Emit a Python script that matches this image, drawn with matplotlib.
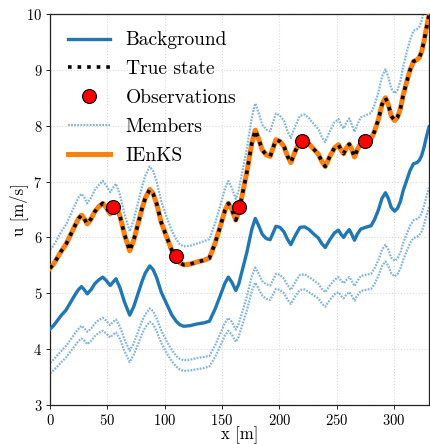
import matplotlib
matplotlib.use("Agg")
import matplotlib.pyplot as plt

plt.rcParams['font.family'] = 'serif'
plt.rcParams['font.serif'] = ['cmr10']
plt.rcParams['mathtext.fontset'] = 'cm'
plt.rcParams['axes.formatter.use_mathtext'] = True

# positions along the domain [m]
x = [0, 3, 6, 10, 14, 18, 22, 25, 27.5, 30, 32.5, 36, 39, 42.5, 46, 49, 52.5, 55, 57.5, 61,
     65, 69.5, 73, 77, 80, 83, 87, 90, 93, 97, 101.5, 106, 110, 113, 116.5, 122, 128, 134, 139, 144,
     148.5, 152.5, 155.5, 158.5, 162, 164.5, 167, 171.5, 176, 179, 182, 185, 188.5, 192, 194.5, 197, 200.5, 204, 207, 210,
     214, 218, 222, 226, 230, 234, 237, 240, 244, 248, 251.5, 254, 256, 258.5, 261, 263, 265.5, 268, 271, 275,
     280, 283, 286.5, 289.5, 292.5, 295, 297.5, 300.5, 303, 305.5, 308, 311, 314, 317, 320, 322, 324, 326, 328, 330.5]

true_u = [5.45, 5.52, 5.62, 5.76, 5.88, 6.05, 6.22, 6.34, 6.40, 6.33, 6.24, 6.34, 6.46, 6.55, 6.61, 6.54, 6.42, 6.50, 6.57, 6.38,
          6.05, 5.76, 5.95, 6.26, 6.50, 6.70, 6.86, 6.78, 6.60, 6.27, 6.02, 5.78, 5.63, 5.55, 5.51, 5.52, 5.56, 5.59, 5.63, 5.90,
          6.20, 6.48, 6.61, 6.50, 6.31, 6.45, 6.70, 7.15, 7.69, 7.92, 7.76, 7.57, 7.48, 7.45, 7.60, 7.75, 7.72, 7.63, 7.46, 7.34,
          7.55, 7.72, 7.74, 7.67, 7.58, 7.49, 7.36, 7.27, 7.45, 7.60, 7.66, 7.56, 7.50, 7.60, 7.67, 7.58, 7.44, 7.57, 7.69, 7.72,
          7.76, 7.90, 8.12, 8.38, 8.50, 8.38, 8.18, 8.09, 8.15, 8.30, 8.55, 8.78, 9.00, 9.15, 9.18, 9.22, 9.32, 9.50, 9.72, 9.98]

background_u = [4.36, 4.42, 4.50, 4.61, 4.70, 4.84, 4.98, 5.07, 5.12, 5.06, 4.99, 5.07, 5.17, 5.24, 5.29, 5.23, 5.14, 5.20, 5.26, 5.10,
                4.84, 4.61, 4.76, 5.01, 5.20, 5.36, 5.49, 5.42, 5.28, 5.02, 4.82, 4.62, 4.50, 4.44, 4.41, 4.42, 4.45, 4.47, 4.50, 4.72,
                4.96, 5.18, 5.29, 5.20, 5.05, 5.16, 5.36, 5.72, 6.15, 6.34, 6.21, 6.06, 5.98, 5.96, 6.08, 6.20, 6.18, 6.10, 5.97, 5.87,
                6.04, 6.18, 6.19, 6.14, 6.06, 5.99, 5.89, 5.82, 5.96, 6.08, 6.13, 6.05, 6.00, 6.08, 6.14, 6.06, 5.95, 6.06, 6.15, 6.18,
                6.21, 6.32, 6.50, 6.70, 6.80, 6.70, 6.54, 6.47, 6.52, 6.64, 6.84, 7.02, 7.20, 7.32, 7.34, 7.38, 7.46, 7.60, 7.78, 7.98]

member_hi = [5.78, 5.85, 5.96, 6.11, 6.23, 6.41, 6.59, 6.72, 6.78, 6.71, 6.61, 6.72, 6.85, 6.94, 7.01, 6.93, 6.81, 6.89, 6.96, 6.76,
             6.41, 6.11, 6.31, 6.64, 6.89, 7.10, 7.27, 7.19, 7.00, 6.65, 6.38, 6.13, 5.97, 5.88, 5.84, 5.85, 5.89, 5.93, 5.97, 6.25,
             6.57, 6.87, 7.01, 6.89, 6.69, 6.84, 7.10, 7.58, 8.15, 8.40, 8.23, 8.02, 7.93, 7.90, 8.06, 8.22, 8.18, 8.09, 7.91, 7.78,
             8.00, 8.18, 8.20, 8.13, 8.03, 7.94, 7.80, 7.71, 7.90, 8.06, 8.12, 8.01, 7.95, 8.06, 8.13, 8.03, 7.89, 8.02, 8.15, 8.18,
             8.23, 8.37, 8.61, 8.88, 9.01, 8.88, 8.67, 8.58, 8.64, 8.80, 9.06, 9.31, 9.54, 9.70, 9.73, 9.77, 9.88, 10.07, 10.30, 10.58]

member_lo1 = [3.76, 3.81, 3.88, 3.97, 4.06, 4.17, 4.29, 4.37, 4.42, 4.37, 4.31, 4.37, 4.46, 4.52, 4.56, 4.51, 4.43, 4.49, 4.53, 4.40,
              4.17, 3.97, 4.11, 4.32, 4.49, 4.62, 4.73, 4.68, 4.55, 4.33, 4.15, 3.99, 3.88, 3.83, 3.80, 3.81, 3.84, 3.86, 3.88, 4.07,
              4.28, 4.47, 4.56, 4.49, 4.35, 4.45, 4.62, 4.93, 5.31, 5.46, 5.35, 5.22, 5.16, 5.14, 5.24, 5.35, 5.33, 5.26, 5.15, 5.06,
              5.21, 5.33, 5.34, 5.29, 5.23, 5.17, 5.08, 5.02, 5.14, 5.24, 5.29, 5.22, 5.18, 5.24, 5.29, 5.23, 5.13, 5.22, 5.31, 5.33,
              5.35, 5.45, 5.60, 5.78, 5.87, 5.78, 5.64, 5.58, 5.62, 5.73, 5.90, 6.06, 6.21, 6.31, 6.33, 6.36, 6.43, 6.56, 6.71, 6.89]

member_lo2 = [3.57, 3.62, 3.68, 3.77, 3.85, 3.96, 4.07, 4.15, 4.19, 4.15, 4.09, 4.15, 4.23, 4.29, 4.33, 4.28, 4.21, 4.26, 4.30, 4.18,
              3.96, 3.77, 3.90, 4.10, 4.26, 4.39, 4.49, 4.44, 4.32, 4.11, 3.94, 3.79, 3.69, 3.64, 3.61, 3.62, 3.64, 3.66, 3.69, 3.86,
              4.06, 4.24, 4.33, 4.26, 4.13, 4.22, 4.39, 4.68, 5.04, 5.19, 5.08, 4.96, 4.90, 4.88, 4.98, 5.08, 5.06, 5.00, 4.89, 4.81,
              4.95, 5.06, 5.07, 5.02, 4.96, 4.91, 4.82, 4.76, 4.88, 4.98, 5.02, 4.95, 4.91, 4.98, 5.02, 4.96, 4.87, 4.96, 5.04, 5.06,
              5.08, 5.17, 5.32, 5.49, 5.57, 5.49, 5.36, 5.30, 5.34, 5.44, 5.60, 5.75, 5.90, 5.99, 6.01, 6.04, 6.10, 6.22, 6.37, 6.54]

# the IEnKS analysis lies on top of the true state
ienks_u = true_u

obs_x = [55, 110, 165, 220, 275]
obs_u = [6.54, 5.67, 6.54, 7.72, 7.72]

fig = plt.figure(figsize=(4.3, 4.44), dpi=100)
ax = fig.add_axes([0.1163, 0.0878, 0.8814, 0.8807])

ax.grid(True, ls=':', color='#d9d9d9', lw=0.8)
ax.set_axisbelow(True)

ax.plot(x, background_u, color='#1f77b4', lw=2.4, label='Background', zorder=3)
ax.plot(x, true_u, color='black', ls=':', lw=2.6, label='True state', zorder=5)
ax.plot(obs_x, obs_u, 'o', color='red', mec='black', mew=0.8, ms=10, label='Observations', zorder=6)
for i, m in enumerate([member_hi, member_lo1, member_lo2]):
    ax.plot(x, m, color='#6aa6d8', ls=(0, (0.8, 0.6)), lw=1.6, alpha=0.85,
            label='Members' if i == 0 else None, zorder=2)
ax.plot(x, ienks_u, color='#ff7f0e', lw=3.6, label='IEnKS', zorder=4)

ax.set_xlim(0, 330.5)
ax.set_ylim(3, 10)
ax.set_xticks([0, 50, 100, 150, 200, 250, 300])
ax.set_yticks([3, 4, 5, 6, 7, 8, 9, 10])
ax.tick_params(labelsize=10.5, length=3, width=0.6, pad=2.5)
ax.set_xlabel('x [m]', fontsize=12, labelpad=-1)
ax.set_ylabel('u [m/s]', fontsize=12, labelpad=-1)

for s in ax.spines.values():
    s.set_linestyle((0, (1, 1)))
    s.set_linewidth(0.9)
    s.set_color('#222222')

ax.legend(loc='upper left', frameon=False, fontsize=14, handlelength=2.2,
          handletextpad=0.8, labelspacing=0.56)

plt.savefig('out.png', dpi=100)
